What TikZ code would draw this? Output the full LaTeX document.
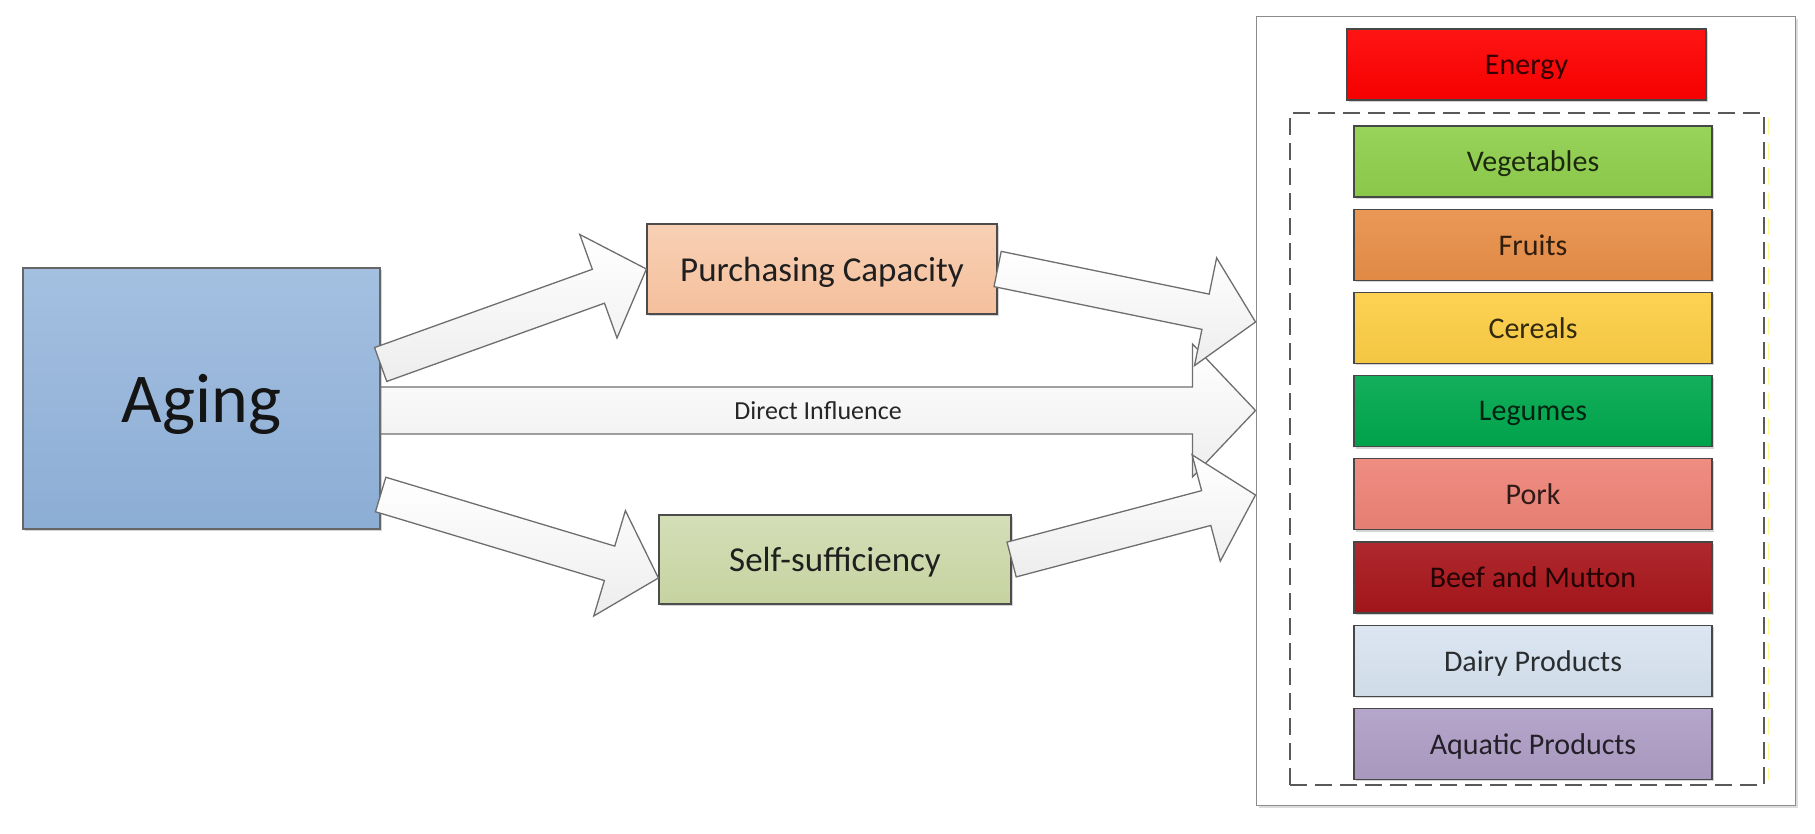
\documentclass[tikz,border=0pt]{standalone}
\usepackage{fontspec}
\setmainfont{Carlito}
\usetikzlibrary{calc,shadows}
\definecolor{agingTop}{HTML}{A4C0E1}
\definecolor{agingBot}{HTML}{8CADD4}
\definecolor{pcC}{HTML}{F5C09C}
\definecolor{ssC}{HTML}{C6D3A0}
\definecolor{energyC}{HTML}{FF0000}
\definecolor{vegC}{HTML}{8FCF4C}
\definecolor{fruitC}{HTML}{E98F48}
\definecolor{cerealC}{HTML}{FDCE45}
\definecolor{legC}{HTML}{00A84E}
\definecolor{porkC}{HTML}{EE8377}
\definecolor{beefC}{HTML}{A8161B}
\definecolor{dairyC}{HTML}{D8E4F1}
\definecolor{aquaC}{HTML}{AF9EC6}
\definecolor{arrowLine}{HTML}{6E6E6E}
\newcommand{\blockarrow}[5]{%
  \coordinate (bab) at ($(#2)!#5!(#1)$);
  \path[barrow] ($(#1)!#3!90:(#2)$) -- ($(bab)!#3!90:(#2)$) -- ($(bab)!#4!90:(#2)$)
     -- (#2) -- ($(bab)!#4!-90:(#2)$) -- ($(bab)!#3!-90:(#2)$) -- ($(#1)!#3!-90:(#2)$) -- cycle;}
\begin{document}
\begin{tikzpicture}[x=1pt,y=-1pt,
  softshadow/.style={drop shadow={shadow xshift=1.5pt,shadow yshift=-2pt,opacity=0.28,fill=black!60}},
  catbox/.style={draw=black!72, line width=1.1pt, minimum width=358pt, minimum height=71pt,
     inner sep=0pt, font=\fontsize{30}{36}\selectfont, text depth=0pt,
     top color=#1!92!white, bottom color=#1!96!black, text=black!80!#1, softshadow},
  midbox/.style={draw=black!70, line width=1.2pt, inner sep=0pt, font=\fontsize{35}{42}\selectfont,
     text depth=0pt, top color=#1!75!white, bottom color=#1, text=black!88, softshadow},
  barrow/.style={draw=arrowLine, line width=1.3pt, line join=miter, top color=white, bottom color=black!7},
]
\useasboundingbox (0,0) rectangle (1815,833);

% right panel
\node[draw=black!45, fill=white, line width=1pt, minimum width=539pt, minimum height=789pt,
      inner sep=0pt, drop shadow={shadow xshift=3pt,shadow yshift=-3pt,opacity=0.22,fill=black!60}] (outer) at (1525.5,410.5) {};
\node[draw=black!65, line width=1.3pt, dash pattern=on 17pt off 8pt, minimum width=474pt,
      minimum height=672pt, inner sep=0pt] (group) at (1527,449) {};
\draw[yellow!45!white, line width=1pt, dash pattern=on 17pt off 8pt]
      ($(group.north east)+(4,6)$) -- ($(group.south east)+(4,-6)$);

\node[catbox=energyC, minimum width=359pt] (energy) at (1526.5,64.5) {Energy};
\node[catbox=vegC]    (veg)     at (1533,161.5) {Vegetables};
\node[catbox=fruitC]  (fruits)  at (1533,244.7) {Fruits};
\node[catbox=cerealC] (cereals) at (1533,327.9) {Cereals};
\node[catbox=legC]    (legumes) at (1533,411.1) {Legumes};
\node[catbox=porkC]   (pork)    at (1533,494.3) {Pork};
\node[catbox=beefC]   (beef)    at (1533,577.5) {Beef and Mutton};
\node[catbox=dairyC]  (dairy)   at (1533,660.7) {Dairy Products};
\node[catbox=aquaC]   (aquatic) at (1533,743.9) {Aquatic Products};

% left boxes
\node[draw=black!60, line width=1.3pt, minimum width=357pt, minimum height=261pt, inner sep=0pt,
      top color=agingTop, bottom color=agingBot, font=\fontsize{70}{84}\selectfont,
      text depth=0pt, text=black!92, softshadow] (aging) at (201.5,398.5) {Aging};
\node[midbox=pcC, minimum width=350pt, minimum height=90pt] (pc) at (822,269) {Purchasing Capacity};
\node[midbox=ssC, minimum width=352pt, minimum height=89pt] (ss) at (835,559.5) {Self-sufficiency};

% connectors
\coordinate (dT) at ($(aging.east)+(0,12)$);
\coordinate (dP) at (outer.west);
\blockarrow{dT}{dP}{23.5pt}{66.5pt}{63pt}
\node[font=\fontsize{26}{31}\selectfont, text depth=0pt, text=black!85, inner sep=0pt]
      (dlabel) at ($(dT)!0.5!(dP)$) {Direct Influence};

\coordinate (a1T) at ($(aging.east)+(0,-34)$);
\coordinate (a1P) at (pc.west);
\blockarrow{a1T}{a1P}{18pt}{55pt}{51pt}

\coordinate (a4T) at ($(aging.east)+(0,96)$);
\coordinate (a4P) at ($(ss.west)+(0,18.5)$);
\blockarrow{a4T}{a4P}{18pt}{55pt}{51pt}

\coordinate (a3T) at (pc.east);
\coordinate (a3P) at ($(outer.west)+(0,-88.5)$);
\blockarrow{a3T}{a3P}{18pt}{55pt}{51pt}

\coordinate (a5T) at (ss.east);
\coordinate (a5P) at ($(outer.west)+(0,84.5)$);
\blockarrow{a5T}{a5P}{18pt}{55pt}{51pt}
\end{tikzpicture}
\end{document}
